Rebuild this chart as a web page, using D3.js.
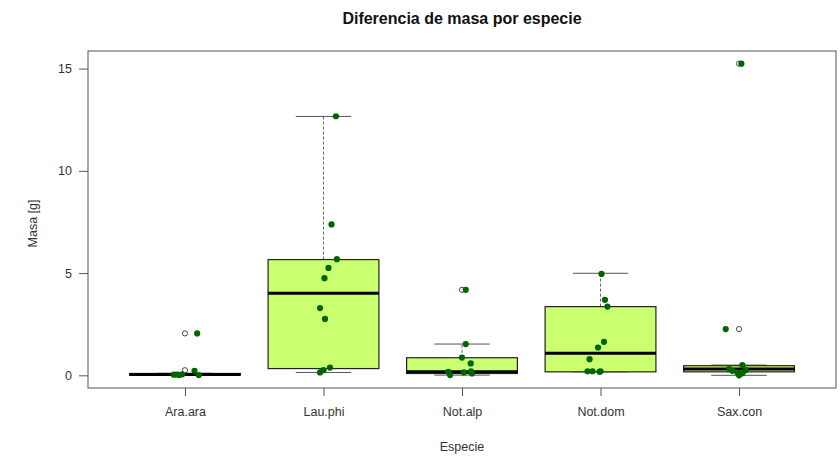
<!DOCTYPE html>
<html>
<head>
<meta charset="utf-8">
<script src="https://cdn.jsdelivr.net/npm/d3@7"></script>
<style>
  html, body { margin: 0; padding: 0; background: #ffffff; }
  svg { display: block; font-family: "Liberation Sans", Arial, sans-serif; }
</style>
</head>
<body>
<svg id="chart" width="840" height="457"></svg>
<script>
// ---- data ----
const categories = ["Ara.ara", "Lau.phi", "Not.alp", "Not.dom", "Sax.con"];
const whiskerLow  = [0.00, 0.14, 0.01, 0.17, 0.00];
const q1          = [0.01, 0.33, 0.09, 0.17, 0.17];
const medians     = [0.04, 4.01, 0.17, 1.08, 0.31];
const q3          = [0.09, 5.66, 0.86, 3.36, 0.47];
const whiskerHigh = [0.10, 12.66, 1.53, 4.99, 0.50];

const outlierCat = ["Ara.ara", "Ara.ara", "Not.alp", "Sax.con", "Sax.con"];
const outlierVal = [2.05, 0.25, 4.18, 15.24, 2.26];

const pointCat = [
  "Ara.ara","Ara.ara","Ara.ara","Ara.ara","Ara.ara","Ara.ara","Ara.ara",
  "Lau.phi","Lau.phi","Lau.phi","Lau.phi","Lau.phi","Lau.phi","Lau.phi","Lau.phi","Lau.phi","Lau.phi",
  "Not.alp","Not.alp","Not.alp","Not.alp","Not.alp","Not.alp","Not.alp","Not.alp","Not.alp",
  "Not.dom","Not.dom","Not.dom","Not.dom","Not.dom","Not.dom","Not.dom","Not.dom","Not.dom","Not.dom",
  "Sax.con","Sax.con","Sax.con","Sax.con","Sax.con","Sax.con","Sax.con","Sax.con","Sax.con"
];
const pointVal = [
  2.05, 0.22, 0.03, 0.04, 0.02, 0.01, 0.05,
  12.67, 7.38, 5.68, 5.25, 4.75, 3.29, 2.76, 0.38, 0.25, 0.14,
  4.18, 1.53, 0.87, 0.58, 0.17, 0.01, 0.14, 0.09, 0.20,
  4.96, 3.69, 3.36, 1.64, 1.36, 0.79, 0.20, 0.20, 0.20, 0.17,
  15.24, 2.26, 0.50, 0.30, 0.22, 0.00, 0.14, 0.25, 0.10
];
// jitter offsets, in fractions of the category spacing
const pointJitter = [
  0.088, 0.069, -0.080, -0.058, -0.043, 0.100, -0.020,
  0.090, 0.058, 0.097, 0.036, 0.007, -0.025, 0.011, 0.047, 0.000, -0.025,
  0.027, 0.027, 0.000, 0.063, -0.099, -0.086, 0.014, 0.072, 0.065,
  0.007, 0.032, 0.050, 0.025, -0.018, -0.079, -0.094, -0.058, 0.000, -0.007,
  0.017, -0.096, 0.024, -0.072, -0.048, 0.000, -0.012, 0.048, 0.024
];
const yTicks = [0, 5, 10, 15];

const titleText = "Diferencia de masa por especie";
const xTitle = "Especie";
const yTitle = "Masa [g]";

// ---- layout ----
const svg = d3.select("#chart");
const plot = { left: 88, right: 836, top: 51, bottom: 388 };

const x = d3.scalePoint().domain(categories).range([plot.left, plot.right]).padding(0.7);
const step = x.step();
const boxW = step * 0.8;
const capW = boxW * 0.5;
const y = d3.scaleLinear().domain([-0.62, 15.86]).range([plot.bottom, plot.top]);

const boxes = categories.map((c, i) => ({
  cat: c, lo: whiskerLow[i], q1: q1[i], med: medians[i], q3: q3[i], hi: whiskerHigh[i]
}));

// title
svg.append("text")
  .attr("x", (plot.left + plot.right) / 2).attr("y", 24)
  .attr("text-anchor", "middle")
  .attr("font-size", 16).attr("font-weight", "bold").attr("fill", "#111")
  .text(titleText);

const g = svg.append("g");

// whiskers (dashed)
g.selectAll(".wh-up").data(boxes).join("line")
  .attr("x1", d => x(d.cat)).attr("x2", d => x(d.cat))
  .attr("y1", d => y(d.q3)).attr("y2", d => y(d.hi))
  .attr("stroke", "#666").attr("stroke-width", 1).attr("stroke-dasharray", "3,2");
g.selectAll(".wh-lo").data(boxes).join("line")
  .attr("x1", d => x(d.cat)).attr("x2", d => x(d.cat))
  .attr("y1", d => y(d.q1)).attr("y2", d => y(d.lo))
  .attr("stroke", "#666").attr("stroke-width", 1).attr("stroke-dasharray", "3,2");
// caps
g.selectAll(".cap-up").data(boxes).join("line")
  .attr("x1", d => x(d.cat) - capW / 2).attr("x2", d => x(d.cat) + capW / 2)
  .attr("y1", d => y(d.hi)).attr("y2", d => y(d.hi))
  .attr("stroke", "#555").attr("stroke-width", 1);
g.selectAll(".cap-lo").data(boxes).join("line")
  .attr("x1", d => x(d.cat) - capW / 2).attr("x2", d => x(d.cat) + capW / 2)
  .attr("y1", d => y(d.lo)).attr("y2", d => y(d.lo))
  .attr("stroke", "#555").attr("stroke-width", 1);

// boxes
g.selectAll(".box").data(boxes).join("rect")
  .attr("x", d => x(d.cat) - boxW / 2).attr("width", boxW)
  .attr("y", d => y(d.q3)).attr("height", d => Math.max(0.5, y(d.q1) - y(d.q3)))
  .attr("fill", "#caff70").attr("stroke", "#222").attr("stroke-width", 1.2);

// medians
g.selectAll(".med").data(boxes).join("line")
  .attr("x1", d => x(d.cat) - boxW / 2).attr("x2", d => x(d.cat) + boxW / 2)
  .attr("y1", d => y(d.med)).attr("y2", d => y(d.med))
  .attr("stroke", "#000").attr("stroke-width", 3);

// outliers (open circles)
g.selectAll(".out").data(outlierVal.map((v, i) => ({ cat: outlierCat[i], v })))
  .join("circle")
  .attr("cx", d => x(d.cat)).attr("cy", d => y(d.v)).attr("r", 2.6)
  .attr("fill", "#fff").attr("stroke", "#333").attr("stroke-width", 0.9);

// jittered points
g.selectAll(".pt").data(pointVal.map((v, i) => ({ cat: pointCat[i], v, j: pointJitter[i] })))
  .join("circle")
  .attr("cx", d => x(d.cat) + d.j * step).attr("cy", d => y(d.v)).attr("r", 3.1)
  .attr("fill", "#006400");

// frame
svg.append("rect")
  .attr("x", plot.left).attr("y", plot.top)
  .attr("width", plot.right - plot.left).attr("height", plot.bottom - plot.top)
  .attr("fill", "none").attr("stroke", "#555").attr("stroke-width", 1);

// axes
const yAxis = svg.append("g").attr("transform", `translate(${plot.left},0)`)
  .call(d3.axisLeft(y).tickValues(yTicks).tickSize(9).tickPadding(7).tickFormat(d3.format("d")));
yAxis.select(".domain").remove();
yAxis.selectAll(".tick line").attr("stroke", "#555");
yAxis.selectAll("text").attr("font-size", 12.5).attr("fill", "#333")
  .attr("font-family", "'Liberation Sans', Arial, sans-serif");

const xAxis = svg.append("g").attr("transform", `translate(0,${plot.bottom})`)
  .call(d3.axisBottom(x).tickSize(8).tickPadding(11));
xAxis.select(".domain").remove();
xAxis.selectAll(".tick line").attr("stroke", "#555");
xAxis.selectAll("text").attr("font-size", 12.5).attr("fill", "#333")
  .attr("font-family", "'Liberation Sans', Arial, sans-serif");

// axis titles
svg.append("text")
  .attr("x", (plot.left + plot.right) / 2).attr("y", 451)
  .attr("text-anchor", "middle").attr("font-size", 12.5).attr("fill", "#333")
  .text(xTitle);
svg.append("text")
  .attr("transform", `translate(37,${(plot.top + plot.bottom) / 2 + 4}) rotate(-90)`)
  .attr("text-anchor", "middle").attr("font-size", 12.5).attr("fill", "#333")
  .text(yTitle);
</script>
</body>
</html>
